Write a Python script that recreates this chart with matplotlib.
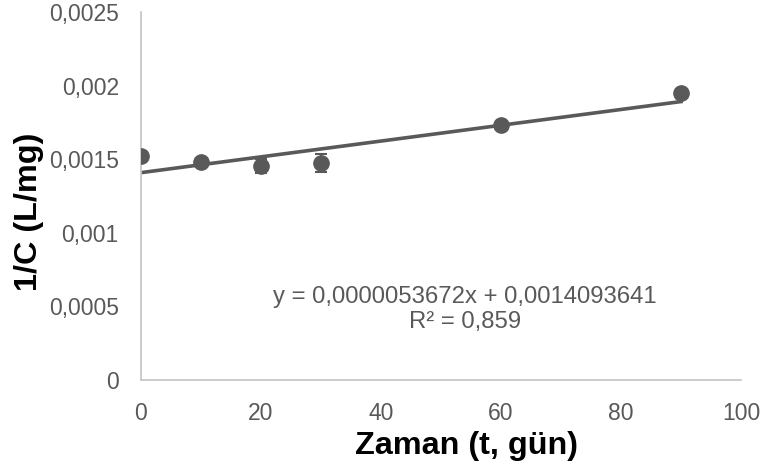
import matplotlib
matplotlib.use("Agg")
import matplotlib.pyplot as plt
import numpy as np

plt.rcParams['font.family'] = ['Liberation Sans', 'DejaVu Sans']

# Measured inverse concentration over time
days = [0, 10, 20, 30, 60, 90]
inv_conc = [0.001522, 0.001481, 0.001454, 0.001474, 0.001732, 0.00195]
inv_conc_err = [0.00001, 0.00001, 0.00005, 0.00006, 0.00001, 0.00003]

# Linear trend reported on the chart
slope = 0.0000053672
intercept = 0.0014093641
r_squared = 0.859

x_ticks = [0, 20, 40, 60, 80, 100]
x_tick_labels = ['0', '20', '40', '60', '80', '100']
y_ticks = [0, 0.0005, 0.001, 0.0015, 0.002, 0.0025]
y_tick_labels = ['0', '0,0005', '0,001', '0,0015', '0,002', '0,0025']

grey = '#595959'

fig = plt.figure(figsize=(7.76, 4.68), dpi=100)
ax = fig.add_axes([0.1817, 0.188, 0.7733, 0.786])

ax.errorbar(days, inv_conc, yerr=inv_conc_err, fmt='o', color=grey,
            markersize=11, ecolor=grey, elinewidth=1.5, capsize=4.5,
            capthick=1.5, zorder=3)

trend_x = np.array([min(days), max(days)])
ax.plot(trend_x, slope * trend_x + intercept, color=grey, linewidth=2.6,
        zorder=2)

eq = "y = " + f"{slope:.10f}".replace('.', ',') + "x + " + \
     f"{intercept:.10f}".replace('.', ',') + "\nR² = " + \
     f"{r_squared:.3f}".replace('.', ',')
ax.text(54, 0.00048, eq, ha='center', va='center', fontsize=17.2,
        color=grey, linespacing=1.15)

ax.set_xlim(0, 100)
ax.set_ylim(0, 0.0025)
ax.set_xticks(x_ticks)
ax.set_xticklabels(x_tick_labels)
ax.set_yticks(y_ticks)
ax.set_yticklabels(y_tick_labels)
ax.tick_params(axis='y', length=0, labelsize=16.5, labelcolor=grey, pad=16)
ax.tick_params(axis='x', length=0, labelsize=16.5, labelcolor=grey, pad=16)

for side in ('top', 'right'):
    ax.spines[side].set_visible(False)
for side in ('left', 'bottom'):
    ax.spines[side].set_color('#c8c8c8')
    ax.spines[side].set_linewidth(1.3)

ax.set_xlabel('Zaman (t, gün)', fontsize=23.3, fontweight='bold')
ax.set_ylabel('1/C (L/mg)', fontsize=23.3, fontweight='bold')
ax.xaxis.set_label_coords(0.543, -0.138)
ax.yaxis.set_label_coords(-0.162, 0.4565)

fig.savefig('out.png', dpi=100)
